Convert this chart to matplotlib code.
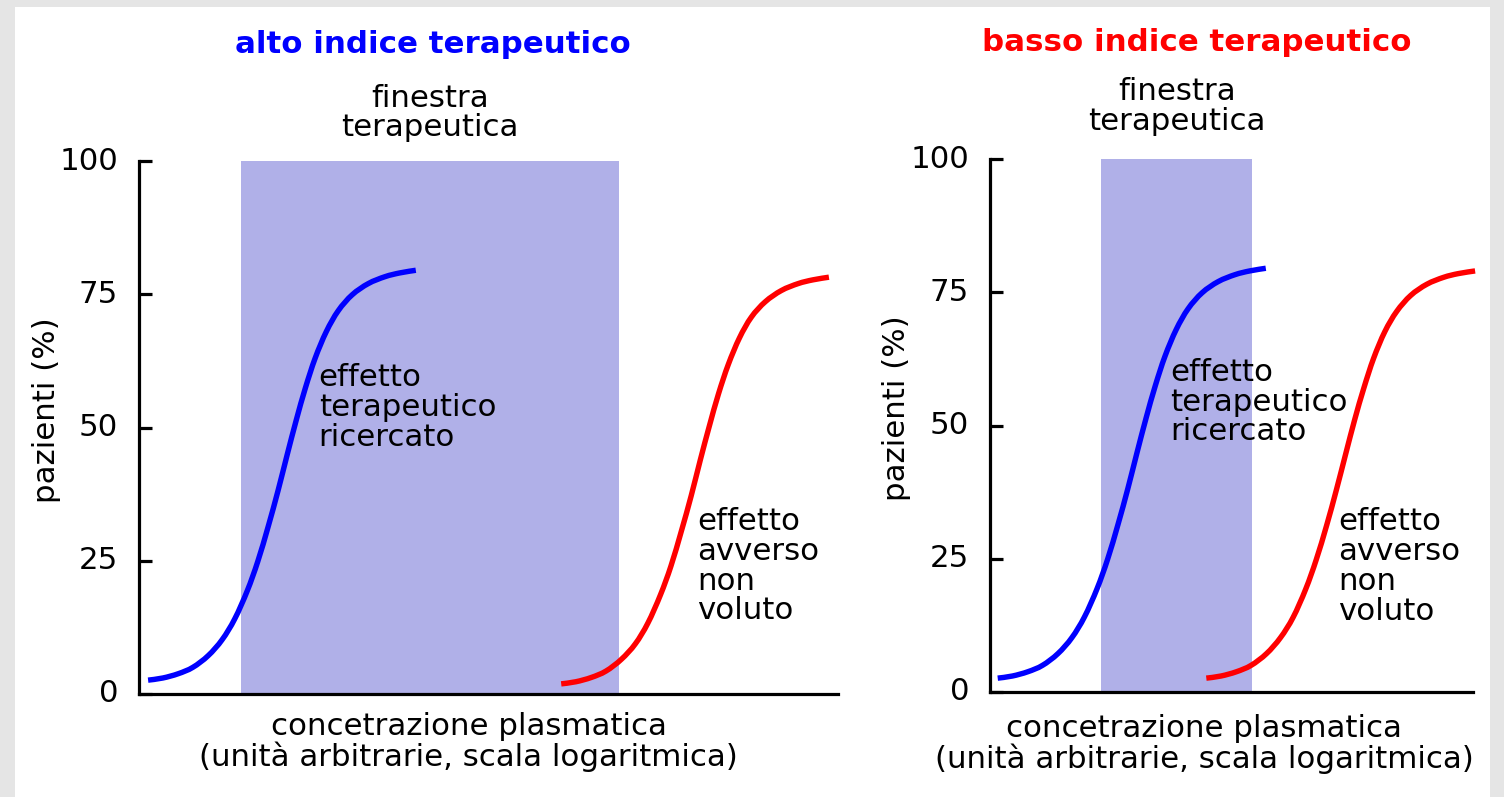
import matplotlib
matplotlib.use("Agg")
import matplotlib.pyplot as plt
from matplotlib.patches import Rectangle, PathPatch
from matplotlib.path import Path
from matplotlib.transforms import ScaledTranslation

# ---- data -------------------------------------------------------------
y_ticks = [0, 25, 50, 75, 100]
y_tick_labels = ["0", "25", "50", "75", "100"]

# high therapeutic index panel
win_high = (14.6, 68.7)              # therapeutic window (x range)
ther_high_x = [1.3, 3.4, 5.6, 7.7, 9.9, 11.9, 13.7, 15.5, 17.0, 18.5, 19.9,
               21.2, 22.5, 23.8, 25.2, 26.8, 28.5, 30.5, 32.8, 35.2, 37.3, 39.6]
ther_high_y = [2.6, 3.0, 3.8, 5.0, 7.2, 10.2, 14.1, 19.4, 24.9, 31.5, 38.2,
               44.9, 51.4, 57.4, 63.0, 68.0, 71.9, 74.9, 77.0, 78.3, 79.0, 79.5]
adv_high_x = [60.4, 62.5, 64.7, 66.8, 69.0, 71.0, 72.8, 74.6, 76.1, 77.6, 79.0,
              80.3, 81.6, 82.9, 84.3, 85.9, 87.6, 89.6, 91.9, 94.3, 96.4, 98.7]
adv_high_y = [1.9, 2.3, 3.1, 4.3, 6.5, 9.4, 13.3, 18.6, 24.0, 30.6, 37.2,
              43.9, 50.3, 56.3, 61.8, 66.8, 70.7, 73.6, 75.7, 77.0, 77.7, 78.2]

# low therapeutic index panel
win_low = (15.9, 37.4)
ther_low_x = [1.1, 3.2, 5.4, 7.5, 9.7, 11.7, 13.5, 15.3, 16.8, 18.3, 19.7,
              21.0, 22.3, 23.6, 25.0, 26.6, 28.3, 30.3, 32.6, 35.0, 37.1, 39.4]
ther_low_y = [2.6, 3.0, 3.8, 5.0, 7.2, 10.2, 14.1, 19.4, 24.9, 31.5, 38.2,
              44.9, 51.4, 57.4, 63.0, 68.0, 71.9, 74.9, 77.0, 78.3, 79.0, 79.5]
adv_low_x = [30.9, 33.0, 35.2, 37.3, 39.5, 41.5, 43.3, 45.1, 46.6, 48.1, 49.5,
             50.8, 52.1, 53.4, 54.8, 56.4, 58.1, 60.1, 62.4, 64.8, 66.9, 69.3]
adv_low_y = [2.6, 3.0, 3.8, 5.0, 7.2, 10.2, 14.0, 19.3, 24.8, 31.3, 38.0,
             44.6, 51.1, 57.0, 62.6, 67.6, 71.4, 74.4, 76.5, 77.8, 78.5, 79.0]

# ---- style ------------------------------------------------------------
FS = 22.2
LS = 1.04
BLUE = "#0000ff"
RED = "#ff0000"
WINDOW = "#b0b0e8"

plt.rcParams["font.family"] = ["DejaVu Sans"]

fig = plt.figure(figsize=(15.04, 7.97), dpi=100, facecolor="#e5e5e5")
# white page on the grey frame
fig.patches.append(Rectangle((15 / 1504, 0), (1490 - 15) / 1504, (797 - 7) / 797,
                             transform=fig.transFigure, facecolor="white",
                             edgecolor="none", zorder=-5))

ax1 = fig.add_axes([139 / 1504, 103 / 797, 699 / 1504, 533 / 797])
ax2 = fig.add_axes([990 / 1504, 105 / 797, 483 / 1504, 533 / 797])


def smooth_path(xs, ys):
    """Cubic Bezier path running through every given point (Catmull-Rom)."""
    pts = list(zip(xs, ys))
    verts = [pts[0]]
    codes = [Path.MOVETO]
    n = len(pts)
    for i in range(n - 1):
        p0 = pts[i - 1] if i > 0 else pts[i]
        p1 = pts[i]
        p2 = pts[i + 1]
        p3 = pts[i + 2] if i + 2 < n else pts[i + 1]
        c1 = (p1[0] + (p2[0] - p0[0]) / 6, p1[1] + (p2[1] - p0[1]) / 6)
        c2 = (p2[0] - (p3[0] - p1[0]) / 6, p2[1] - (p3[1] - p1[1]) / 6)
        verts += [c1, c2, p2]
        codes += [Path.CURVE4] * 3
    return Path(verts, codes)


def style_axes(ax, xmax):
    ax.set_xlim(0, xmax)
    ax.set_ylim(0, 100)
    ax.patch.set_alpha(0)
    for s in ("top", "right"):
        ax.spines[s].set_visible(False)
    for s in ("left", "bottom"):
        ax.spines[s].set_linewidth(2.3)
        ax.spines[s].set_capstyle("projecting")
    ax.set_xticks([])
    ax.set_yticks(y_ticks)
    ax.set_yticklabels(y_tick_labels)
    ax.tick_params(axis="y", direction="in", length=9, width=2.3,
                   labelsize=FS, pad=15)
    shift = ScaledTranslation(0, 3 / 100, fig.dpi_scale_trans)
    for lab in ax.get_yticklabels():
        lab.set_transform(lab.get_transform() + shift)


def draw_panel(ax, xmax, window, tx, ty, ax_x, ax_y, title, title_color,
               title_x, win_label, ther_txt, adv_txt, ylab_x, xlab):
    style_axes(ax, xmax)
    ax.add_patch(Rectangle((window[0], 0), window[1] - window[0], 100,
                           facecolor=WINDOW, edgecolor="none", zorder=1))
    for xs, ys, col in ((tx, ty, BLUE), (ax_x, ax_y, RED)):
        ax.add_patch(PathPatch(smooth_path(xs, ys), facecolor="none",
                               edgecolor=col, lw=3.9, capstyle="butt",
                               zorder=3, clip_on=False))
    ax.text(title_x, 121.8, title, color=title_color, fontsize=FS,
            fontweight="bold", ha="center", va="center", clip_on=False)
    ax.text(win_label[0], win_label[1], "finestra\nterapeutica", fontsize=FS,
            ha="center", va="center", linespacing=LS, clip_on=False)
    ax.text(ther_txt[0], ther_txt[1], "effetto\nterapeutico\nricercato",
            fontsize=FS, ha="left", va="center", linespacing=LS, zorder=4)
    ax.text(adv_txt[0], adv_txt[1], "effetto\navverso\nnon\nvoluto",
            fontsize=FS, ha="left", va="center", linespacing=LS, zorder=4)
    ax.text(ylab_x, 53.2, "pazienti (%)", fontsize=FS, rotation=90,
            ha="center", va="center", clip_on=False)
    ax.text(xlab[0], xlab[1],
            "concetrazione plasmatica\n(unità arbitrarie, scala logaritmica)",
            fontsize=FS, ha="center", va="center", linespacing=LS,
            clip_on=False)


draw_panel(ax1, 100, win_high, ther_high_x, ther_high_y, adv_high_x, adv_high_y,
           "alto indice terapeutico", BLUE, 42.1, (41.6, 109.0),
           (25.7, 53.7), (79.8, 24.0), -13.3, (47.2, -9.0))
draw_panel(ax2, 69, win_low, ther_low_x, ther_low_y, adv_low_x, adv_low_y,
           "basso indice terapeutico", RED, 29.6, (26.7, 109.8),
           (25.8, 54.4), (49.7, 23.6), -13.3, (30.6, -9.8))

fig.savefig("out.png", dpi=100, facecolor=fig.get_facecolor())
